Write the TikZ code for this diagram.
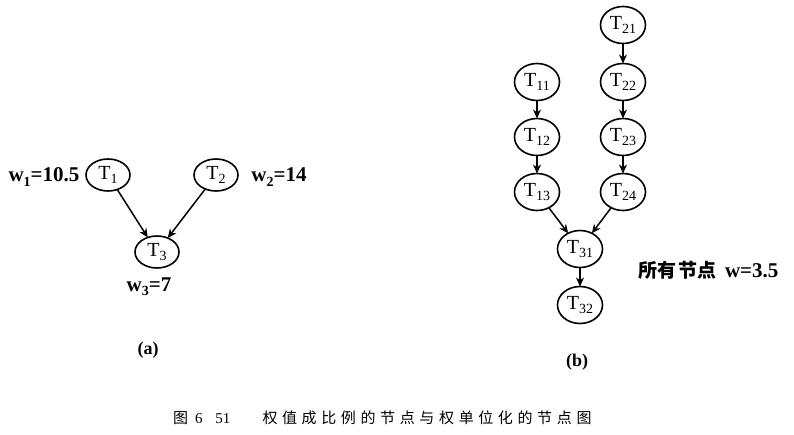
\documentclass[tikz,border=0pt]{standalone}
\usepackage{fontspec}
\setmainfont{Liberation Serif}
\newfontfamily\cjk{Noto Sans CJK SC}
\usetikzlibrary{arrows.meta,shapes.geometric}
\newcommand\lsub[1]{\raisebox{-0.45ex}{\fontsize{14}{14}\selectfont #1}}
\begin{document}
\begin{tikzpicture}[x=1pt,y=-1pt,
  every node/.style={inner sep=0pt,outer sep=0pt},
  tn/.style={draw,ellipse,line width=1.6pt,minimum width=44pt,minimum height=32pt,
    font=\fontsize{20}{20}\selectfont},
  tb/.style={tn,minimum width=45pt,minimum height=37pt},
  lab/.style={font=\fontsize{21}{21}\selectfont\bfseries},
  arr/.style={line width=1.5pt,-{Stealth[length=9pt,width=8pt]}},
  sub/.style={font=\fontsize{18}{18}\selectfont\bfseries}]
\useasboundingbox (0,0) rectangle (794,435);

% (a)
\node[tn] (t1) at (108,175) {T\lsub{1}};
\node[tn] (t2) at (216,175) {T\lsub{2}};
\node[tn] (t3) at (157,252) {T\lsub{3}};
\draw[arr] (t1) -- (t3);
\draw[arr] (t2) -- (t3);
\node[lab] (w1) at (44,177) {w\lsub{1}=10.5};
\node[lab] (w2) at (279,177) {w\lsub{2}=14};
\node[lab] (w3) at (149,287) {w\lsub{3}=7};
\node[sub] (la) at (148,350) {(a)};

% (b)
\node[tb] (t21) at (623,25) {T\lsub{21}};
\node[tb] (t22) at (623,82) {T\lsub{22}};
\node[tb] (t23) at (623,137) {T\lsub{23}};
\node[tb] (t24) at (623,192) {T\lsub{24}};
\node[tb] (t11) at (537,82) {T\lsub{11}};
\node[tb] (t12) at (537,137) {T\lsub{12}};
\node[tb] (t13) at (537,192) {T\lsub{13}};
\node[tb] (t31) at (580,249) {T\lsub{31}};
\node[tb] (t32) at (580,305) {T\lsub{32}};
\draw[arr] (t21) -- (t22);
\draw[arr] (t22) -- (t23);
\draw[arr] (t23) -- (t24);
\draw[arr] (t11) -- (t12);
\draw[arr] (t12) -- (t13);
\draw[arr] (t13) -- (t31);
\draw[arr] (t24) -- (t31);
\draw[arr] (t31) -- (t32);
\node[lab,anchor=west] (wall) at (638,270) {{\cjk\fontsize{19}{19}\selectfont\bfseries 所\hspace{1pt}有\hspace{1pt}节\hspace{1pt}点}\hspace{8pt}w=3.5};
\node[sub] (lb) at (577,362) {(b)};

% caption
\node[anchor=west,font=\fontsize{15}{15}\selectfont] (cap) at (173,418)
  {{\cjk 图}\hspace{7pt}6\hspace{13pt}51\hspace{32pt}\makebox[329pt][s]{\cjk 权\hfill 值\hfill 成\hfill 比\hfill 例\hfill 的\hfill 节\hfill 点\hfill 与\hfill 权\hfill 单\hfill 位\hfill 化\hfill 的\hfill 节\hfill 点\hfill 图}};
\end{tikzpicture}
\end{document}
